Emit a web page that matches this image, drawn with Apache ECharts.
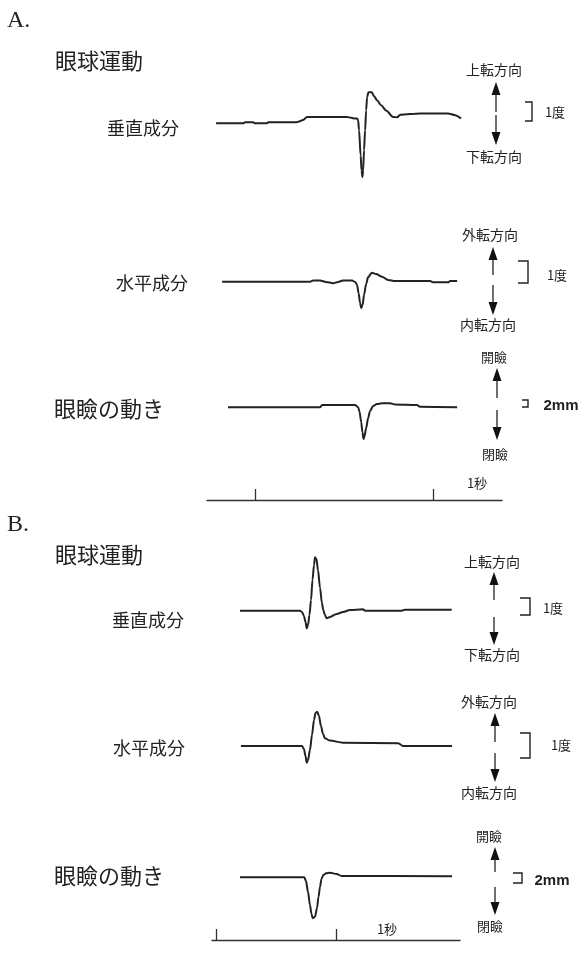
<!DOCTYPE html>
<html><head><meta charset="utf-8">
<script src="https://cdn.jsdelivr.net/npm/echarts@6/dist/echarts.min.js"></script>
<style>html,body{margin:0;padding:0;background:#fff}#c{width:580px;height:974px}</style>
</head><body><div id="c"></div>
<script>
// ---- Data: time in ms (0 = first tick of the 1-second bar), amplitude in deg or mm ----
const aVertT = [-219,-67,-56,-11,0,67,73,230,242,270,292,478,517,539,562,573,579,584,593,598,603,607,612,618,624,629,637,656,669,685,708,736,775,798,815,927,1084,1124,1157];
const aVertV = [0,0,0.05,0.05,0,0,0.05,0.05,0.08,0.18,0.33,0.33,0.33,0.29,0.25,0.25,0.16,-0.37,-1.7,-2.48,-2.82,-2.48,-1.42,-0.37,0.68,1.37,1.63,1.63,1.42,1.21,0.95,0.68,0.33,0.32,0.45,0.52,0.52,0.43,0.25];
const aHorT = [-185,309,326,365,399,438,466,494,545,562,573,581,590,596,604,612,624,635,656,680,712,747,787,983,1000,1084,1096,1135];
const aHorV = [0,0,0.05,0.05,-0.01,-0.07,-0.01,0.05,0.05,-0.01,-0.15,-0.51,-0.97,-1.2,-1.06,-0.6,-0.1,0.21,0.41,0.35,0.23,0.08,0.03,0.03,-0.03,-0.03,0.03,0.03];
const aLidT = [-152,365,376,562,579,587,596,603,609,615,624,635,646,663,685,712,758,787,908,927,1135];
const aLidV = [0,0,0.77,0.77,0,-1.57,-4.9,-8.23,-10.57,-9.57,-6.9,-3.57,-1.23,0.43,1.1,1.33,1.33,0.93,0.77,0.2,0];
const bVertT = [200,700,717,733,746,756,767,779,792,804,817,825,837,850,867,883,894,908,922,950,1006,1058,1117,1225,1242,1547,1575,1964];
const bVertV = [0,0,-0.08,-0.31,-0.66,-1.04,-0.84,-0.25,0.63,1.81,2.69,3.14,3.04,2.39,1.34,0.45,0.04,-0.25,-0.45,-0.37,-0.19,-0.08,0.04,0.08,0,0,0.06,0.06];
const bHorT = [208,717,733,746,756,767,783,800,817,829,844,858,875,892,908,950,1058,1517,1558,1967];
const bHorV = [0,0,-0.12,-0.39,-0.65,-0.55,-0.16,0.43,1.02,1.29,1.34,1.17,0.78,0.47,0.3,0.21,0.13,0.11,0,0];
const bLidT = [200,736,750,767,783,796,806,825,842,854,867,879,894,917,950,1006,1047,1967];
const bLidV = [0,0,-0.74,-2.94,-5.54,-7.34,-8.2,-7.88,-6.14,-3.94,-1.88,-0.34,0.46,0.8,0.92,0.66,0.26,0.2];
const timeTicks = [0, 1000];

const zip = (t, v) => t.map((x, i) => [x, v[i]]);

// ---- Layout ----
const A = {left: 207, right: 78, xmin: -270, xmax: 1387};
const B = {left: 212, right: 120, xmin: -33, xmax: 2033};
const traces = [
  {p: A, data: zip(aVertT, aVertV), top: 80,  h: 110, base: 123.3, ppu: 19},
  {p: A, data: zip(aHorT, aHorV),   top: 255, h: 70,  base: 281.7, ppu: 22},
  {p: A, data: zip(aLidT, aLidV),   top: 390, h: 60,  base: 407.3, ppu: 3},
  {p: B, data: zip(bVertT, bVertV), top: 545, h: 95,  base: 610.7, ppu: 17},
  {p: B, data: zip(bHorT, bHorV),   top: 700, h: 75,  base: 746,   ppu: 25.6},
  {p: B, data: zip(bLidT, bLidV),   top: 860, h: 70,  base: 877.3, ppu: 5}
];
const timeBars = [
  {p: A, y: 500},
  {p: B, y: 940}
];

const grid = [], xAxis = [], yAxis = [], series = [];
traces.forEach((tr, i) => {
  grid.push({left: tr.p.left, right: tr.p.right, top: tr.top, height: tr.h});
  xAxis.push({type: 'value', gridIndex: i, min: tr.p.xmin, max: tr.p.xmax, show: false});
  yAxis.push({type: 'value', gridIndex: i, max: (tr.base - tr.top) / tr.ppu, min: (tr.base - tr.top - tr.h) / tr.ppu, show: false});
  series.push({type: 'line', xAxisIndex: i, yAxisIndex: i, data: tr.data, symbol: 'none', smooth: 0.3, smoothMonotone: 'x',
    lineStyle: {color: '#222', width: 2, join: 'round'}, silent: true, animation: false});
});
timeBars.forEach((tb, j) => {
  const i = traces.length + j;
  grid.push({left: tb.p.left, right: tb.p.right, top: tb.y - 30, height: 30});
  xAxis.push({type: 'value', gridIndex: i, min: tb.p.xmin, max: tb.p.xmax, position: 'bottom',
    axisLine: {show: true, lineStyle: {color: '#333', width: 1.3}},
    axisTick: {show: true, inside: true, length: 11, customValues: timeTicks, lineStyle: {color: '#333', width: 1.3}},
    axisLabel: {show: false}, splitLine: {show: false}});
  yAxis.push({type: 'value', gridIndex: i, min: 0, max: 1, show: false});
});

// ---- Annotations ----
const CJK = '"Noto Sans CJK JP", sans-serif';
const g = [];
function txt(s, x, y, size, opts) {
  opts = opts || {};
  g.push({type: 'text', x: x, y: y, silent: true, style: {text: s, fill: '#222', font: (opts.weight || 'normal') + ' ' + size + 'px ' + (opts.family || CJK),
    textAlign: opts.align || 'center', textVerticalAlign: 'middle'}});
}
function arrows(x, upTip, upEnd, downStart, downTip) {
  const hw = 4.5, hh = 13;
  g.push({type: 'polygon', silent: true, shape: {points: [[x, upTip], [x - hw, upTip + hh], [x + hw, upTip + hh]]}, style: {fill: '#111'}});
  g.push({type: 'line', silent: true, shape: {x1: x, y1: upTip + hh - 1, x2: x, y2: upEnd}, style: {stroke: '#222', lineWidth: 1.3}});
  g.push({type: 'polygon', silent: true, shape: {points: [[x, downTip], [x - hw, downTip - hh], [x + hw, downTip - hh]]}, style: {fill: '#111'}});
  g.push({type: 'line', silent: true, shape: {x1: x, y1: downStart, x2: x, y2: downTip - hh + 1}, style: {stroke: '#222', lineWidth: 1.3}});
}
function bracket(x1, x2, y1, y2) {
  g.push({type: 'polyline', silent: true, shape: {points: [[x1, y1], [x2, y1], [x2, y2], [x1, y2]]}, style: {stroke: '#222', lineWidth: 1.4, fill: null}});
}

// Panel A
txt('A.', 7, 21, 24, {align: 'left', family: '"Liberation Serif", serif'});
txt('眼球運動', 55, 61, 22, {align: 'left'});
txt('垂直成分', 107, 128, 18, {align: 'left'});
txt('水平成分', 116, 283, 18, {align: 'left'});
txt('眼瞼の動き', 54, 409, 22, {align: 'left'});
txt('上転方向', 494, 70, 14); txt('下転方向', 494, 157, 14);
arrows(496, 82, 112, 115, 145); bracket(525, 532, 102, 121); txt('1度', 555, 112, 13);
txt('外転方向', 490, 235, 14); txt('内転方向', 488, 325, 14);
arrows(493, 247, 275, 285, 315); bracket(518, 528, 261, 283); txt('1度', 557, 275, 13);
txt('開瞼', 494, 357, 13); txt('閉瞼', 495, 454, 13);
arrows(497, 368, 398, 410, 440); bracket(522, 528, 400, 407);
txt('2mm', 561, 406, 15, {weight: 'bold', family: '"Liberation Sans", sans-serif'});
txt('1秒', 477, 483, 13);

// Panel B
txt('B.', 7, 525, 24, {align: 'left', family: '"Liberation Serif", serif'});
txt('眼球運動', 55, 555, 22, {align: 'left'});
txt('垂直成分', 112, 620, 18, {align: 'left'});
txt('水平成分', 113, 748, 18, {align: 'left'});
txt('眼瞼の動き', 54, 876, 22, {align: 'left'});
txt('上転方向', 492, 562, 14); txt('下転方向', 492, 655, 14);
arrows(494, 572, 600, 617, 645); bracket(520, 530, 598, 615); txt('1度', 553, 608, 13);
txt('外転方向', 489, 702, 14); txt('内転方向', 489, 793, 14);
arrows(495, 713, 742, 753, 782); bracket(520, 530, 733, 758); txt('1度', 561, 745, 13);
txt('開瞼', 489, 836, 13); txt('閉瞼', 490, 926, 13);
arrows(495, 847, 872, 887, 915); bracket(513, 522, 873, 883);
txt('2mm', 552, 881, 15, {weight: 'bold', family: '"Liberation Sans", sans-serif'});
txt('1秒', 387, 929, 13);

const chart = echarts.init(document.getElementById('c'), null, {renderer: 'canvas'});
chart.setOption({backgroundColor: '#fff', animation: false, grid, xAxis, yAxis, series, graphic: g});
</script></body></html>
